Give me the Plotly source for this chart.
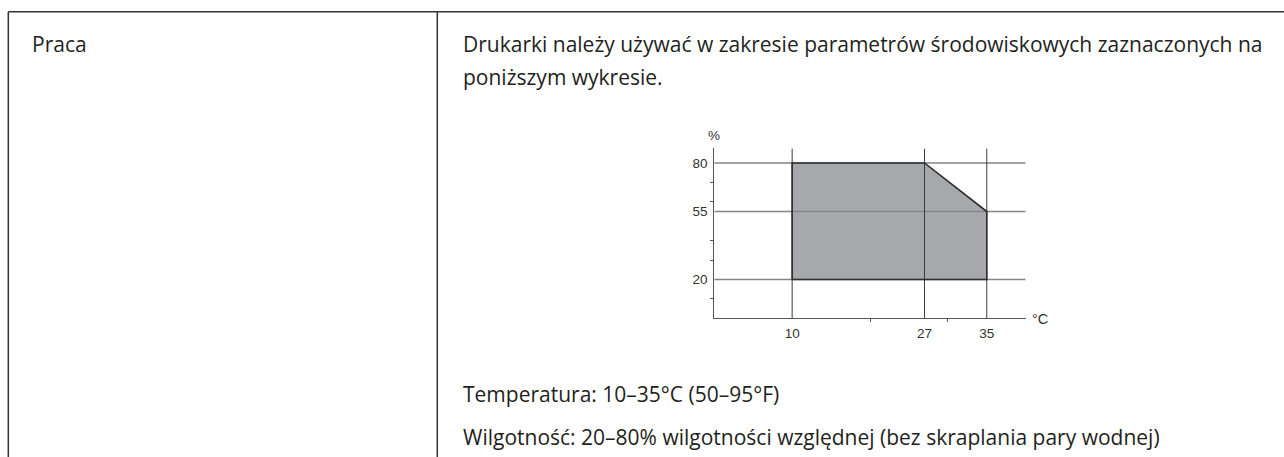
import plotly.graph_objects as go

# Operating range of the printer: temperature (°C) vs relative humidity (%)
temp_c = [10, 10, 27, 35, 35]
humidity = [20, 80, 80, 55, 20]

x_ticks = [10, 27, 35]
y_ticks = [20, 55, 80]
x_minor = [20, 30]
y_minor = [10, 30, 40, 60, 70]
x_range = [0, 40]
y_range = [0, 87.5]

title_left = "Praca"
intro_lines = [
    "Drukarki należy używać w zakresie parametrów środowiskowych zaznaczonych na",
    "poniższym wykresie.",
]
temp_line = "Temperatura: 10–35°C (50–95°F)"
hum_line = "Wilgotność: 20–80% wilgotności względnej (bez skraplania pary wodnej)"

W, H = 1284, 457
TEXT_FONT = "Open Sans, Noto Sans, sans-serif"
TEXT_SIZE = 21
TEXT_COLOR = "#231f20"
AXIS_FONT = "Liberation Sans Narrow, Arial Narrow, Liberation Sans, sans-serif"
AXIS_SIZE = 13.5


def px(x):
    return x / W


def py(y):
    return 1 - y / H


fig = go.Figure()

# Shaded operating region
fig.add_trace(go.Scatter(
    x=temp_c + [temp_c[0]], y=humidity + [humidity[0]],
    mode="lines", fill="toself", fillcolor="#a7a8ab",
    line=dict(width=0), hoverinfo="skip", showlegend=False,
))

# Horizontal reference lines at the labelled humidity values
gx, gy = [], []
for v in y_ticks:
    gx += [x_range[0], x_range[1], None]
    gy += [v, v, None]
fig.add_trace(go.Scatter(x=gx, y=gy, mode="lines",
                         line=dict(color="#858585", width=1.6),
                         hoverinfo="skip", showlegend=False, cliponaxis=False))

# Vertical reference lines at the labelled temperatures
vx, vy = [], []
for v in x_ticks:
    vx += [v, v, None]
    vy += [y_range[0], y_range[1], None]
fig.add_trace(go.Scatter(x=vx, y=vy, mode="lines",
                         line=dict(color="#3c3c3c", width=1),
                         hoverinfo="skip", showlegend=False, cliponaxis=False))

# Outline of the operating region
fig.add_trace(go.Scatter(
    x=temp_c + [temp_c[0]], y=humidity + [humidity[0]],
    mode="lines", line=dict(color="#2e2e2e", width=1.6),
    hoverinfo="skip", showlegend=False, cliponaxis=False,
))

axis_common = dict(
    showgrid=False, zeroline=False, showline=True,
    linecolor="#555555", linewidth=1.3, ticks="",
    tickfont=dict(family=AXIS_FONT, size=AXIS_SIZE, color="#333333"),
    fixedrange=True,
)

fig.update_xaxes(
    range=x_range, tickmode="array", tickvals=x_ticks,
    ticktext=[str(v) for v in x_ticks],
    domain=[px(714.3), px(1025.7)],
    minor=dict(tickmode="array", tickvals=x_minor, ticks="outside",
               ticklen=3, tickcolor="#555555", tickwidth=1, showgrid=False),
    ticklabelstandoff=2,
    **axis_common,
)
fig.update_yaxes(
    range=y_range, tickmode="array", tickvals=y_ticks,
    ticktext=[str(v) for v in y_ticks],
    domain=[py(318.3), py(148.4)],
    minor=dict(tickmode="array", tickvals=y_minor, ticks="outside",
               ticklen=3, tickcolor="#555555", tickwidth=1, showgrid=False),
    ticklabelstandoff=3,
    **axis_common,
)

annotations = [
    dict(text="%", x=px(713.5), y=py(136), xanchor="center", yanchor="middle",
         font=dict(family=AXIS_FONT, size=AXIS_SIZE, color="#333333")),
    dict(text="°C", x=px(1030), y=py(318.5), xanchor="left", yanchor="middle",
         font=dict(family=AXIS_FONT, size=AXIS_SIZE + 1, color="#333333")),
    dict(text=title_left, x=px(30), y=py(44.5), xanchor="left", yanchor="middle",
         font=dict(family=TEXT_FONT, size=TEXT_SIZE, color=TEXT_COLOR)),
    dict(text=intro_lines[0], x=px(461), y=py(44.5), xanchor="left", yanchor="middle",
         font=dict(family=TEXT_FONT, size=TEXT_SIZE, color=TEXT_COLOR)),
    dict(text=intro_lines[1], x=px(461), y=py(77), xanchor="left", yanchor="middle",
         font=dict(family=TEXT_FONT, size=TEXT_SIZE, color=TEXT_COLOR)),
    dict(text=temp_line, x=px(461), y=py(394), xanchor="left", yanchor="middle",
         font=dict(family=TEXT_FONT, size=TEXT_SIZE, color=TEXT_COLOR)),
    dict(text=hum_line, x=px(461), y=py(437), xanchor="left", yanchor="middle",
         font=dict(family=TEXT_FONT, size=TEXT_SIZE, color=TEXT_COLOR)),
]
for a in annotations:
    a.update(xref="paper", yref="paper", showarrow=False)

# Table frame: top rule, left edge and column divider
border = dict(color="#333333", width=1.5)
shapes = [
    dict(type="line", xref="paper", yref="paper",
         x0=px(8.3), x1=1, y0=py(11.7), y1=py(11.7), line=border),
    dict(type="line", xref="paper", yref="paper",
         x0=px(8.3), x1=px(8.3), y0=py(11.7), y1=0, line=border),
    dict(type="line", xref="paper", yref="paper",
         x0=px(437.3), x1=px(437.3), y0=py(11.7), y1=0, line=border),
]

fig.update_layout(
    width=W, height=H,
    margin=dict(l=0, r=0, t=0, b=0),
    paper_bgcolor="white", plot_bgcolor="white",
    annotations=annotations, shapes=shapes,
    showlegend=False,
)

fig.write_html("out.html", config={"displayModeBar": False})
